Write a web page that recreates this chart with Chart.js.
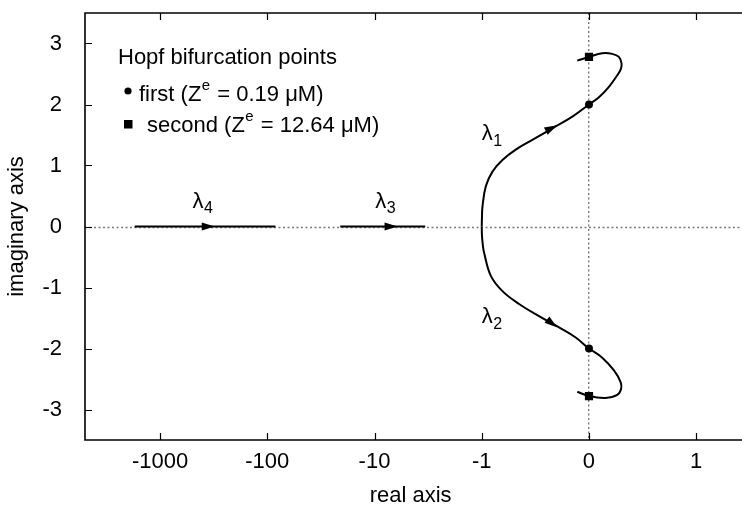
<!DOCTYPE html>
<html>
<head>
<meta charset="utf-8">
<script src="https://cdn.jsdelivr.net/npm/chart.js@4.4.0/dist/chart.umd.min.js"></script>
<style>
  html, body { margin: 0; padding: 0; background: #fff; }
  canvas { display: block; }
</style>
</head>
<body>
<canvas id="rootLocus" width="742" height="509"></canvas>
<script>
// tick values on the real (symlog-like) axis and the imaginary axis
const xTickValues = [-1000, -100, -10, -1, 0, 1];
const yTickValues = [-3, -2, -1, 0, 1, 2, 3];

// lambda1 branch (upper), real part and imaginary part
const lambda1Re = [-1.0, -0.998, -0.993, -0.962, -0.90, -0.807, -0.683, -0.528, -0.341, -0.155, 0, 0.093, 0.186, 0.264, 0.297, 0.304, 0.279, 0.217, 0.124, 0, -0.109];
const lambda1Im = [0, 0.15, 0.33, 0.66, 0.90, 1.09, 1.26, 1.42, 1.61, 1.80, 2.0, 2.12, 2.29, 2.48, 2.58, 2.67, 2.78, 2.83, 2.84, 2.78, 2.72];

// lambda2 branch (lower)
const lambda2Re = [-1.0, -0.998, -0.99, -0.978, -0.915, -0.807, -0.652, -0.466, -0.279, -0.124, 0, 0.124, 0.233, 0.295, 0.30, 0.264, 0.155, 0, -0.109];
const lambda2Im = [0, -0.15, -0.30, -0.43, -0.81, -1.06, -1.27, -1.47, -1.655, -1.82, -2.0, -2.15, -2.36, -2.55, -2.66, -2.76, -2.81, -2.78, -2.71];

// lambda3 and lambda4 lie on the real axis
const lambda3Re = [-20.9, -3.37];
const lambda3Im = [0, 0];
const lambda4Re = [-1726, -84];
const lambda4Im = [0, 0];

// Hopf bifurcation points
const hopfFirstRe = [0, 0];
const hopfFirstIm = [2.0, -2.0];
const hopfSecondRe = [0, 0];
const hopfSecondIm = [2.78, -2.78];

// arrow heads: [fromRe, fromIm, toRe, toIm]
const arrows = [
  [-413, 0, -309, 0],
  [-8.1, 0, -6.1, 0],
  [-0.41, 1.557, -0.295, 1.66],
  [-0.397, -1.52, -0.295, -1.655]
];

// branch labels: [name, subscript, re, im]
const branchLabels = [
  ['λ', '4', -497, 0.31],
  ['λ', '3', -9.84, 0.31],
  ['λ', '1', -1.0, 1.41],
  ['λ', '2', -1.0, -1.585]
];

const FONT = "'Liberation Sans', Arial, Helvetica, sans-serif";

// linear inside [-1, 1], one decade per unit outside
function toAxis(x) {
  if (Math.abs(x) <= 1) return x;
  return Math.sign(x) * (1 + Math.log10(Math.abs(x)));
}

function pts(re, im) {
  return re.map((x, i) => ({ x: toAxis(x), y: im[i] }));
}

const extras = {
  id: 'extras',
  beforeDatasetsDraw(chart) {
    // dotted real axis, runs on to the right edge of the canvas
    const c = chart.ctx;
    const area = chart.chartArea;
    const py = Math.round(chart.scales.y.getPixelForValue(0)) + 0.5;
    c.save();
    c.strokeStyle = '#7a7a7a';
    c.lineWidth = 1.4;
    c.setLineDash([2, 2.5]);
    c.beginPath();
    c.moveTo(area.left, py);
    c.lineTo(chart.width, py);
    c.stroke();
    c.restore();
  },
  afterDraw(chart) {
    const c = chart.ctx;
    const area = chart.chartArea;
    const sx = chart.scales.x, sy = chart.scales.y;
    const w = chart.width;
    c.save();

    // frame (left, top, bottom)
    c.strokeStyle = '#000';
    c.lineWidth = 1.6;
    c.beginPath();
    c.moveTo(w, area.top);
    c.lineTo(area.left, area.top);
    c.lineTo(area.left, area.bottom);
    c.lineTo(w, area.bottom);
    c.stroke();

    // inward tick marks
    c.lineWidth = 1.2;
    c.beginPath();
    xTickValues.forEach(v => {
      const px = Math.round(sx.getPixelForValue(toAxis(v))) + 0.5;
      c.moveTo(px, area.bottom); c.lineTo(px, area.bottom - 7);
      c.moveTo(px, area.top); c.lineTo(px, area.top + 7);
    });
    yTickValues.forEach(v => {
      const py = Math.round(sy.getPixelForValue(v)) + 0.5;
      c.moveTo(area.left, py); c.lineTo(area.left + 7, py);
    });
    c.stroke();

    // arrow heads
    c.fillStyle = '#000';
    arrows.forEach(a => {
      const x0 = sx.getPixelForValue(toAxis(a[0])), y0 = sy.getPixelForValue(a[1]);
      const x1 = sx.getPixelForValue(toAxis(a[2])), y1 = sy.getPixelForValue(a[3]);
      const ang = Math.atan2(y1 - y0, x1 - x0);
      const len = 13, half = 4;
      const bx = x1 - len * Math.cos(ang), by = y1 - len * Math.sin(ang);
      c.beginPath();
      c.moveTo(x1, y1);
      c.lineTo(bx + half * Math.sin(ang), by - half * Math.cos(ang));
      c.lineTo(bx - half * Math.sin(ang), by + half * Math.cos(ang));
      c.closePath();
      c.fill();
    });

    // branch labels
    c.textBaseline = 'alphabetic';
    c.textAlign = 'left';
    branchLabels.forEach(l => {
      const px = sx.getPixelForValue(toAxis(l[2])), py = sy.getPixelForValue(l[3]);
      c.font = '22px ' + FONT;
      c.fillText(l[0], px, py);
      const lw = c.measureText(l[0]).width;
      c.font = '16px ' + FONT;
      c.fillText(l[1], px + lw + 0.5, py + 5.5);
    });

    // legend box
    const lx = area.left, ly = area.top;
    c.font = '22px ' + FONT;
    c.fillText('Hopf bifurcation points', lx + 33, ly + 51);

    function richLine(x, y, pre, post) {
      c.font = '22px ' + FONT;
      c.fillText(pre, x, y);
      x += c.measureText(pre).width;
      c.font = '15px ' + FONT;
      c.fillText('e', x + 0.5, y - 11);
      x += c.measureText('e').width + 1.5;
      c.font = '22px ' + FONT;
      c.fillText(post, x, y);
    }
    c.beginPath();
    c.arc(lx + 43, ly + 78, 3.6, 0, Math.PI * 2);
    c.fill();
    richLine(lx + 54, ly + 88, 'first (Z', ' = 0.19 μM)');
    c.fillRect(lx + 39, ly + 107, 8.5, 8.5);
    richLine(lx + 62, ly + 119, 'second (Z', ' = 12.64 μM)');

    c.restore();
  }
};

const lineStyle = { showLine: true, borderColor: '#000', borderWidth: 2, pointRadius: 0, fill: false };

new Chart(document.getElementById('rootLocus').getContext('2d'), {
  type: 'scatter',
  data: {
    datasets: [
      Object.assign({ data: pts(lambda1Re, lambda1Im), tension: 0.4 }, lineStyle),
      Object.assign({ data: pts(lambda2Re, lambda2Im), tension: 0.4 }, lineStyle),
      Object.assign({ data: pts(lambda3Re, lambda3Im) }, lineStyle),
      Object.assign({ data: pts(lambda4Re, lambda4Im) }, lineStyle),
      { data: pts(hopfFirstRe, hopfFirstIm), pointStyle: 'circle', pointRadius: 4, backgroundColor: '#000', borderColor: '#000', borderWidth: 0 },
      { data: pts(hopfSecondRe, hopfSecondIm), pointStyle: 'rect', pointRadius: 5.8, backgroundColor: '#000', borderColor: '#000', borderWidth: 0 }
    ]
  },
  options: {
    responsive: false,
    animation: false,
    devicePixelRatio: 1,
    layout: { padding: { top: 13, right: 0, left: 0, bottom: 0 } },
    plugins: { legend: { display: false }, tooltip: { enabled: false } },
    scales: {
      x: {
        type: 'linear',
        min: -4.7,
        max: 1.373,
        afterBuildTicks: s => { s.ticks = xTickValues.map(v => ({ value: toAxis(v) })); },
        afterFit: s => { s.height = 69; s.paddingLeft = 0; s.paddingRight = 0; },
        grid: {
          drawTicks: false,
          lineWidth: 1.4,
          color: ctx => (ctx.tick && ctx.tick.value === 0) ? '#7a7a7a' : 'rgba(0,0,0,0)'
        },
        border: { display: false, dash: [2, 2.5] },
        ticks: {
          padding: 11,
          color: '#000',
          font: { family: FONT, size: 22, lineHeight: 1 },
          maxRotation: 0,
          autoSkip: false,
          callback: (v, i) => String(xTickValues[i])
        },
        title: {
          display: true,
          text: 'real axis',
          color: '#000',
          font: { family: FONT, size: 22, lineHeight: 1.2 },
          padding: 0
        }
      },
      y: {
        type: 'linear',
        min: -3.5,
        max: 3.5,
        afterBuildTicks: s => { s.ticks = yTickValues.map(v => ({ value: v })); },
        afterFit: s => { s.width = 85; s.paddingTop = 0; s.paddingBottom = 0; },
        grid: { display: false },
        border: { display: false },
        ticks: {
          padding: 15,
          color: '#000',
          font: { family: FONT, size: 22, lineHeight: 1 },
          callback: v => String(v)
        },
        title: {
          display: true,
          text: 'imaginary axis',
          color: '#000',
          font: { family: FONT, size: 22, lineHeight: 1.2 },
          padding: 4
        }
      }
    }
  },
  plugins: [extras]
});
</script>
</body>
</html>
